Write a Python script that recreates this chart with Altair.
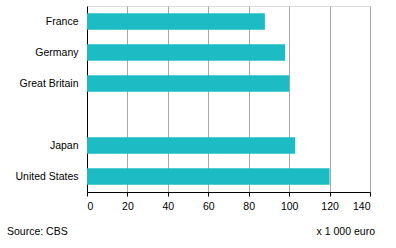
import altair as alt
import pandas as pd

categories = ["France", "Germany", "Great Britain", " ", "Japan", "United States"]
countries = ["France", "Germany", "Great Britain", "Japan", "United States"]
values = [88, 98, 100, 103, 120]
x_ticks = [0, 20, 40, 60, 80, 100, 120, 140]

df = pd.DataFrame({"country": countries, "value": values})

FONT = "Liberation Sans"

bars = alt.Chart(df).mark_bar(color="#1DBBC4").encode(
    y=alt.Y("country:N", sort=categories,
            scale=alt.Scale(domain=categories, paddingInner=0.47, paddingOuter=0.235),
            axis=alt.Axis(title=None, ticks=False, tickSize=0, labelPadding=9,
                          domainColor="#000000", labelFont=FONT, labelFontSize=10.5,
                          labelColor="#000000", grid=False)),
    x=alt.X("value:Q", scale=alt.Scale(domain=[0, 140], nice=False),
            axis=alt.Axis(title=None, values=x_ticks, tickSize=4, labelPadding=5,
                          tickColor="#000000", domainColor="#000000",
                          gridColor="#a8a8a8", labelFont=FONT, labelFontSize=10.5,
                          labelColor="#000000")),
)

notes = pd.DataFrame({"t": ["Source: CBS"]})
source = alt.Chart(notes).mark_text(align="left", baseline="middle", font=FONT,
                                    fontSize=10.5, color="#000000").encode(
    text="t:N", x=alt.value(-80), y=alt.value(226))
notes2 = pd.DataFrame({"t": ["x 1 000 euro"]})
unit = alt.Chart(notes2).mark_text(align="right", baseline="middle", font=FONT,
                                   fontSize=10.5, color="#000000").encode(
    text="t:N", x=alt.value(288), y=alt.value(226))

chart = alt.layer(bars, source, unit).properties(
    width=283, height=186,
    autosize=alt.AutoSizeParams(type="none"),
    padding={"left": 87, "top": 6, "right": 26, "bottom": 56},
).configure_view(stroke="#808080", strokeWidth=1).configure(background="white")

chart.save("out.html", embed_options={"renderer": "svg", "actions": False})
